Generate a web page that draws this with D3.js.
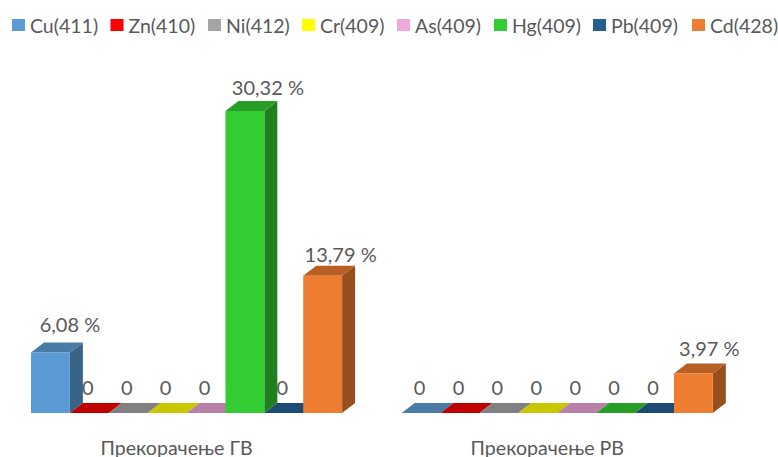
<!DOCTYPE html>
<html>
<head>
<meta charset="utf-8">
<script src="https://cdn.jsdelivr.net/npm/d3@7"></script>
<style>
html,body{margin:0;padding:0;background:#fff;overflow:hidden}
svg{display:block}
text{font-family:Lato,"Open Sans",sans-serif;fill:#595959}
</style>
</head>
<body>
<script>
const categories = ["Прекорачење ГВ", "Прекорачење РВ"];
const seriesNames = ["Cu(411)", "Zn(410)", "Ni(412)", "Cr(409)", "As(409)", "Hg(409)", "Pb(409)", "Cd(428)"];
const gvValues = [6.08, 0, 0, 0, 0, 30.32, 0, 13.79];
const rvValues = [0, 0, 0, 0, 0, 0, 0, 3.97];
const frontColors = ["#5B9BD5", "#FF0000", "#A5A5A5", "#FFFF00", "#EFA9DC", "#33CC33", "#255E91", "#ED7D31"];
const topColors = ["#4A7BA6", "#C00000", "#808080", "#C8C800", "#B981A8", "#279F27", "#1C4A72", "#B85F23"];
const sideColors = ["#3A6487", "#A00000", "#6E6E6E", "#A0A000", "#96688A", "#20801F", "#163A5A", "#964F1D"];
const legendStarts = [12, 110.5, 208, 302, 397, 494, 593, 692];

const width = 778, height = 457;
const depthX = 13, depthY = 10;

const svg = d3.select("body").append("svg").attr("width", width).attr("height", height);

const x0 = d3.scaleBand().domain(categories).range([1.2, 742.6]).paddingInner(0).paddingOuter(0);
const x1 = d3.scaleBand().domain(seriesNames).range([0, x0.bandwidth()]).paddingInner(0).paddingOuter(29.8 / 38.9);
const y = d3.scaleLinear().domain([0, 30.32]).range([413, 111]);

const fmt = v => v === 0 ? "0" : d3.format(".2f")(v).replace(".", ",") + " %";
const rows = categories.map((c, i) => ({c, values: i === 0 ? gvValues : rvValues}));

// label nudges relative to the bar's front-face centre / back-top edge
const labelDx = v => v === 0 ? -1.5 : ({6.08: 19.5, 30.32: 23, 13.79: 18, 3.97: 16})[v];
const labelUp = v => ({0: 8, 6.08: 10, 30.32: 6, 13.79: 4, 3.97: 7})[v];

rows.forEach(row => {
  const g = svg.append("g").attr("transform", `translate(${x0(row.c)},0)`);
  row.values.forEach((v, i) => {
    const l = x1(seriesNames[i]), r = l + x1.bandwidth(), t = y(v), b = y(0);
    const poly = pts => pts.map(p => p.join(",")).join(" ");
    if (v > 0) g.append("polygon").attr("fill", sideColors[i])
      .attr("points", poly([[r, t], [r + depthX, t - depthY], [r + depthX, b - depthY], [r, b]]));
    g.append("polygon").attr("fill", topColors[i])
      .attr("points", poly([[l, t], [l + depthX, t - depthY], [r + depthX, t - depthY], [r, t]]));
    if (v > 0) g.append("rect").attr("fill", frontColors[i])
      .attr("x", l).attr("y", t).attr("width", r - l).attr("height", b - t);
  });
});

rows.forEach(row => {
  const g = svg.append("g").attr("transform", `translate(${x0(row.c)},0)`);
  row.values.forEach((v, i) => {
    g.append("text")
      .attr("x", x1(seriesNames[i]) + x1.bandwidth() / 2 + labelDx(v))
      .attr("y", y(v) - depthY - labelUp(v))
      .attr("text-anchor", "middle")
      .attr("font-size", 20)
      .text(fmt(v));
  });
});

const axis = d3.axisBottom(x0).tickSize(0).tickPadding(0);
const axisG = svg.append("g").attr("transform", "translate(-10,441)").call(axis);
axisG.select(".domain").remove();
axisG.selectAll("text").attr("font-size", 19.6).attr("font-family", 'Lato,"Open Sans",sans-serif').attr("fill", "#595959").attr("dy", "0.71em").attr("y", 0);

const legend = svg.selectAll(".lg").data(seriesNames).join("g").attr("class", "lg")
  .attr("transform", (d, i) => `translate(${legendStarts[i]},19)`);
legend.append("rect").attr("width", 13).attr("height", 12).attr("fill", (d, i) => frontColors[i]);
legend.append("text").attr("x", 18).attr("y", 13.5).attr("font-size", 19.5).text(d => d);
</script>
</body>
</html>
